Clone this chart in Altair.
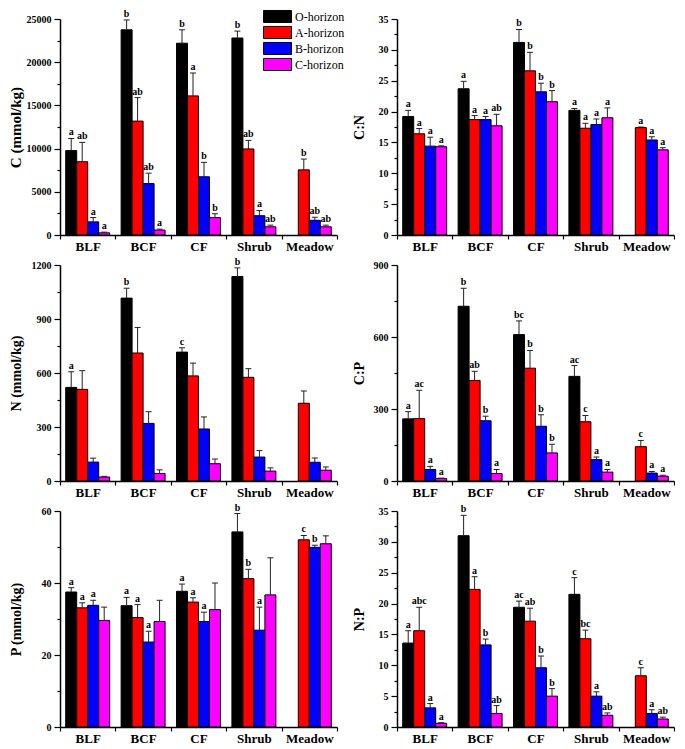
import altair as alt
import pandas as pd

sites = ["BLF", "BCF", "CF", "Shrub", "Meadow"]
horizons = ["O-horizon", "A-horizon", "B-horizon", "C-horizon"]
colors = ["#000000", "#FF0000", "#0000FF", "#FF00FF"]

# rows = horizons (O, A, B, C); columns = sites
C_mean = [[9770, 23750, 22200, 22800, None], [8480, 13180, 16100, 9960, 7540],
          [1520, 5950, 6740, 2230, 1700], [250, 570, 2010, 950, 950]]
C_err = [[1400, 1140, 1550, 800, None], [2240, 2720, 2650, 990, 1250],
         [500, 1210, 1670, 610, 350], [80, 110, 450, 190, 190]]
C_let = [["a", "b", "b", "b", ""], ["ab", "ab", "a", "ab", "b"],
         ["a", "ab", "b", "a", "ab"], ["a", "a", "b", "ab", "ab"]]

CN_mean = [[19.2, 23.7, 31.2, 20.2, None], [16.4, 18.7, 26.6, 17.3, 17.4],
           [14.4, 18.7, 23.2, 17.9, 15.4], [14.3, 17.7, 21.6, 19.0, 13.8]]
CN_err = [[1.0, 1.2, 2.1, 0.3, None], [0.85, 0.65, 3.0, 0.8, 0.1],
          [1.45, 0.5, 1.4, 0.9, 0.5], [0.15, 1.85, 1.8, 1.6, 0.35]]
CN_let = [["a", "a", "b", "a", ""], ["a", "a", "b", "a", "a"],
          ["a", "a", "b", "a", "a"], ["a", "ab", "b", "a", "a"]]

N_mean = [[520, 1016, 716, 1136, None], [509, 711, 584, 576, 432],
          [105, 320, 289, 133, 104], [22, 42, 96, 55, 60]]
N_err = [[87, 55, 24, 48, None], [104, 142, 71, 48, 68],
         [22, 65, 67, 36, 24], [4, 20, 26, 18, 18]]
N_let = [["a", "b", "c", "b", ""], ["", "", "", "", ""],
         ["", "", "", "", ""], ["", "", "", "", ""]]

CP_mean = [[259, 728, 610, 436, None], [260, 419, 470, 247, 143],
           [48, 251, 228, 89, 33], [10, 31, 117, 37, 20]]
CP_err = [[30, 75, 57, 45, None], [118, 38, 74, 26, 26],
          [13, 19, 48, 11, 7], [2, 17, 36, 11, 4]]
CP_let = [["a", "b", "bc", "ac", ""], ["ac", "ab", "b", "c", "c"],
          ["a", "b", "b", "a", "a"], ["a", "a", "b", "a", "a"]]

P_mean = [[37.5, 33.7, 37.7, 54.2, None], [33.1, 30.4, 34.7, 41.2, 52.0],
          [33.8, 23.6, 29.3, 26.9, 49.9], [29.6, 29.3, 32.6, 36.7, 50.9]]
P_err = [[1.2, 2.3, 2.0, 5.1, None], [1.4, 3.6, 1.2, 2.6, 1.2],
         [1.4, 3.0, 2.6, 6.4, 0.6], [3.7, 5.9, 7.4, 10.3, 2.2]]
P_let = [["a", "a", "a", "b", ""], ["a", "a", "a", "b", "c"],
         ["a", "a", "a", "a", "b"], ["", "", "", "", ""]]

NP_mean = [[13.6, 31.0, 19.4, 21.5, None], [15.6, 22.3, 17.15, 14.3, 8.3],
           [3.1, 13.3, 9.6, 5.0, 2.2], [0.6, 2.2, 5.0, 1.9, 1.3]]
NP_err = [[2.0, 3.3, 1.0, 2.7, None], [3.8, 2.05, 2.1, 1.4, 1.3],
          [0.7, 0.95, 1.9, 0.7, 0.58], [0.1, 1.27, 1.22, 0.38, 0.3]]
NP_let = [["a", "b", "ac", "c", ""], ["abc", "a", "ab", "bc", "c"],
          ["a", "b", "b", "a", "a"], ["a", "ab", "b", "ab", "ab"]]

SERIF = "Liberation Serif"
W, H = 277, 216


def panel(mean, err, let, title, ymax, step, title_size, title_x, legend=False):
    rows = []
    for hi, h in enumerate(horizons):
        for si, s in enumerate(sites):
            m = mean[hi][si]
            if m is None:
                continue
            rows.append(dict(site=s, horizon=h, v=m, top=m + err[hi][si], lab=let[hi][si]))
    df = pd.DataFrame(rows)
    major = [i * step for i in range(int(round(ymax / step)) + 1)]
    minor = [i * step + step / 2 for i in range(int(round(ymax / step)))]
    yscale = alt.Scale(domain=[0, ymax], nice=False, zero=True)

    base = alt.Chart(df).encode(
        x=alt.X("site:N", sort=sites, scale=alt.Scale(paddingInner=0, paddingOuter=0),
                axis=alt.Axis(title=None, labelAngle=0, labelFont=SERIF, labelFontSize=13,
                              labelFontWeight="bold", labelColor="black", tickBand="extent",
                              tickSize=4, tickColor="black", tickWidth=1.2, domainColor="black",
                              domainWidth=1.5, labelPadding=1)),
        xOffset=alt.XOffset("horizon:N", sort=horizons,
                            scale=alt.Scale(domain=horizons, paddingInner=0, paddingOuter=0.52)),
    )
    if legend:
        leg = alt.Legend(orient="none", legendX=210, legendY=-10, title=None,
                         symbolType="M-2,-0.86L2,-0.86L2,0.86L-2,0.86Z", symbolSize=196,
                         symbolStrokeColor="black", symbolStrokeWidth=1, symbolOpacity=1,
                         labelFont=SERIF, labelFontSize=12, labelColor="black",
                         labelOffset=10, rowPadding=-3, padding=0)
    else:
        leg = None
    bars = base.mark_bar(stroke="black", strokeWidth=1, opacity=1).encode(
        y=alt.Y("v:Q", scale=yscale,
                axis=alt.Axis(title=title, titleFont=SERIF, titleFontSize=title_size,
                              titleFontWeight="bold", titleColor="black", titleX=title_x,
                              labelFont=SERIF, labelFontSize=10, labelFontWeight="bold",
                              labelColor="black", values=major, format="d", tickSize=6,
                              tickColor="black", tickWidth=1.2, domainColor="black",
                              domainWidth=1.5, labelPadding=3, grid=False)),
        color=alt.Color("horizon:N", sort=horizons,
                        scale=alt.Scale(domain=horizons, range=colors), legend=leg),
    )
    rules = base.mark_rule(color="#222222", strokeWidth=1).encode(
        y=alt.Y("top:Q", scale=yscale,
                axis=alt.Axis(orient="left", values=minor, labels=False, domain=False,
                              tickSize=3, tickColor="black", tickWidth=1.2, title=None,
                              grid=False)),
        y2="v:Q",
    )
    caps = base.mark_tick(color="#222222", thickness=1, size=6, opacity=1).encode(
        y=alt.Y("top:Q", scale=yscale, axis=None))
    texts = base.mark_text(font=SERIF, fontSize=10, fontWeight="bold", baseline="bottom",
                           dy=-1, color="black").encode(
        y=alt.Y("top:Q", scale=yscale, axis=None), text="lab:N")
    return alt.layer(bars, rules, caps, texts).resolve_axis(y="independent").properties(
        width=W, height=H)


p1 = panel(C_mean, C_err, C_let, "C (mmol/kg)", 25000, 5000, 15, -37, legend=True)
p2 = panel(CN_mean, CN_err, CN_let, "C:N", 35, 5, 14, -31)
p3 = panel(N_mean, N_err, N_let, "N (mmol/kg)", 1200, 300, 14, -37)
p4 = panel(CP_mean, CP_err, CP_let, "C:P", 900, 300, 14, -31)
p5 = panel(P_mean, P_err, P_let, "P (mmol/kg)", 60, 20, 14, -37)
p6 = panel(NP_mean, NP_err, NP_let, "N:P", 35, 5, 14, -31)

chart = alt.concat(p1, p2, p3, p4, p5, p6, columns=2,
                   spacing={"row": 30, "column": 60}, bounds="flush").resolve_scale(
    color="independent").configure_view(stroke=None).properties(
    padding={"left": 0, "top": 0, "right": 0, "bottom": 0})

chart.save("out.html", embed_options={"renderer": "svg", "actions": False})
